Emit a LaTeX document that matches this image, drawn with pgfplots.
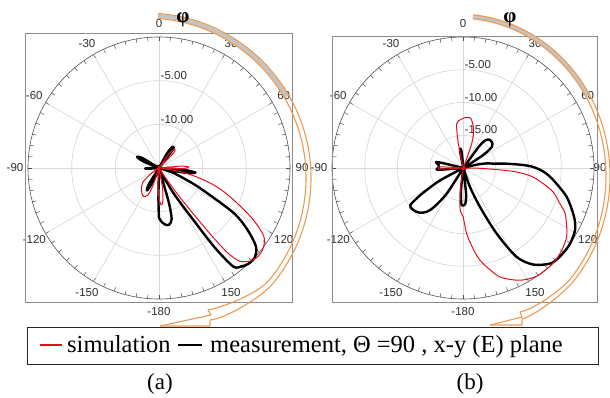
\documentclass[border=0pt]{standalone}
\usepackage{fontspec}
\setmainfont{Liberation Serif}
\newfontfamily\arial{Liberation Sans}
\usepackage{pgfplots}
\usepackage{pgfplotstable}
\pgfplotsset{compat=1.18}

\definecolor{simred}{HTML}{E3101C}
\definecolor{orng}{HTML}{EC9A52}
\definecolor{bandgray}{HTML}{C4C4C4}
\definecolor{gridgray}{HTML}{D9D9D9}
\definecolor{framegray}{HTML}{8C8C8C}
\definecolor{ringdark}{HTML}{505050}
\definecolor{labc}{HTML}{303030}

% ---------- panel (a): phi [deg], level [dB] ----------
\pgfplotstableread{
phi db
-180 -9.3
-179 -11.5
-178 -15
-160 -15
-156 -13.2
-152 -12.1
-148 -12.8
-145 -15
-97 -15
-94 -14
-92 -13.4
-90 -14
-88 -15
-72 -15
-67 -13
-63 -12.2
-59 -12.8
-55 -15
25 -15
29 -13
33 -12.1
37 -12.4
41 -15
91 -15
94 -12.3
97 -10.8
100 -11.8
103 -14.5
106 -14.3
109 -13.2
112 -12.2
116 -9.8
121 -5.05
125 -2.6
129 -0.7
133 0
137 0
140 -0.3
143 -0.9
145 -4
146.5 -7.9
148 -10
150 -11.7
153 -14
156 -15
162 -15
164 -11
166 -9
170 -8.4
174 -8.5
177 -8.8
180 -9.3
}\lblack

\pgfplotstableread{
phi db
-180 -11.5
-177 -13
-174 -15
-165 -15
-161 -13
-158 -11.7
-151 -11.3
-141 -11.8
-131 -12.6
-125 -14
-120 -15
30 -15
35 -13
40 -12.2
44 -12.6
49 -15
82 -15
85 -12.5
88 -11.6
91 -12.2
94 -14.5
97 -14.5
100 -12.2
104 -10.2
108 -8
113 -5.75
118.7 -2.7
123 -0.7
127 0
131 0.2
135 0
139 -0.85
141 -2.5
142 -5
143 -8
144.5 -11
146 -13.5
149 -15
166 -15
170 -12.5
174 -11
177 -10.8
180 -11.5
}\lred

% ---------- panel (b) ----------
\pgfplotstableread{
phi db
-180 -14.3
-177 -14.4
-174 -16.5
-171 -20
-150 -20
-147 -15.3
-143 -12.5
-140 -11.25
-136 -10.5
-133 -10.2
-129 -10
-125 -10.1
-122.5 -12
-121 -13.5
-118 -16
-114 -20
-100 -20
-94 -16.1
-88 -16.3
-83 -16.2
-77 -15.9
-72 -20
-14 -20
-11 -17.5
-9 -17
-6 -17.5
-3 -20
33 -20
36 -16
38.5 -14.6
43 -14.1
48 -14.1
53.5 -14.6
57 -16.5
60 -20
73 -20
76 -17.9
79 -16.3
82 -15.3
84.3 -13.4
87 -11
89.2 -9.3
93 -7.6
97.8 -6.1
105.7 -3.6
113.9 -1.5
119.2 -0.47
126 0
133 0
137.8 -0.3
144.1 -1.8
149.1 -4.2
153.1 -8.8
156.8 -13.5
160.6 -16.9
164 -20
170 -20
174 -16
177 -14.5
180 -14.3
}\rblack

\pgfplotstableread{
phi db
-180 -12.5
-177 -13.2
-175 -14
-172 -17
-169 -20
-97 -20
-93 -16.5
-90 -16.2
-87 -16.5
-83 -20
-15 -20
-11.6 -16.2
-8.6 -13.2
-3 -12.6
2 -12.3
8 -12.3
12.5 -13.2
15.5 -14.05
19 -16.1
23 -20
88 -20
91 -17.5
93 -14.4
94.3 -11.8
97 -9.5
101.1 -7.56
105 -5.8
110.3 -4.27
114 -3
119.7 -1.83
124 -1
128.3 -0.55
133 -0.2
137.7 0
144.9 0
149 -0.3
153.2 -0.8
157 -1.5
161.4 -2.44
165 -3.8
169.7 -5.68
173 -7.5
177.1 -9.96
180 -12.5
}\rred

\begin{document}
\begin{tikzpicture}[x=1pt,y=1pt]
\path[use as bounding box] (0,0) rectangle (610,397);

% ----- polar grids (decoration) -----
\foreach \cx/\rs in {159/43.67, 463/32.75} {
  \foreach \k in {1,2,3,4} {
    \pgfmathsetmacro\rr{\k*\rs}
    \ifdim\rr pt<130pt
      \draw[gridgray, line width=0.7pt] (\cx,229) circle[radius=\rr pt];
    \fi
  }
  \foreach \a in {0,30,...,330}
    \draw[gridgray, line width=0.7pt] (\cx,229) -- ++(\a:131pt);
  \draw[ringdark, line width=0.6pt] (\cx,229) circle[radius=131pt];
  \foreach \a in {0,5,...,355}
    \draw[ringdark, line width=0.5pt] (\cx,229) ++(\a:127pt) -- ++(\a:4pt);
}
\foreach \cx in {159,463} {
  \foreach \a/\t in {0/0,30/30,60/60,120/120,150/150,180/-180,210/-150,240/-120,270/-90,300/-60,330/-30}
    \path (\cx,229) ++({90-\a}:144pt) node[font=\arial\fontsize{11.5}{13}\selectfont, text=labc, inner sep=0pt] {\t};
}
\path (159,229) ++(0:143pt) node[font=\arial\fontsize{11.5}{13}\selectfont, text=labc, inner sep=0pt] {90};
\path (463,229) ++(0:137pt) node[font=\arial\fontsize{11.5}{13}\selectfont, text=labc, inner sep=0pt] {90};
% ring labels
\begingroup\arial\fontsize{11.5}{13}\selectfont
\node[anchor=south west, inner sep=1pt, text=labc] at (159.5,229+87.33) {-5.00};
\node[anchor=south west, inner sep=1pt, text=labc] at (159.5,229+43.67) {-10.00};
\node[anchor=south west, inner sep=1pt, text=labc] at (463.5,229+98.25) {-5.00};
\node[anchor=south west, inner sep=1pt, text=labc] at (463.5,229+65.5) {-10.00};
\node[anchor=south west, inner sep=1pt, text=labc] at (463.5,229+32.75) {-15.00};
\endgroup

% ----- panel (a) -----
\begin{axis}[at={(25pt,95pt)}, anchor=south west, x=8.733pt, y=8.733pt,
  xmin=-15.34, xmax=15.23, ymin=-15.34, ymax=15.46,
  axis line style={framegray, line width=0.8pt},
  xtick=\empty, ytick=\empty, clip=false]
\addplot[black, line width=2.4pt, smooth, tension=0.5, line join=round]
  table[x expr={(\thisrow{db}+15)*sin(\thisrow{phi})}, y expr={(\thisrow{db}+15)*cos(\thisrow{phi})}] {\lblack};
\addplot[simred, line width=1pt, smooth, tension=0.5]
  table[x expr={(\thisrow{db}+15)*sin(\thisrow{phi})}, y expr={(\thisrow{db}+15)*cos(\thisrow{phi})}] {\lred};
\end{axis}

% ----- panel (b) -----
\begin{axis}[at={(332pt,95pt)}, anchor=south west, x=6.55pt, y=6.55pt,
  xmin=-20.05, xmax=20.41, ymin=-20.46, ymax=20.15,
  axis line style={framegray, line width=0.8pt},
  xtick=\empty, ytick=\empty, clip=false]
\addplot[black, line width=2.4pt, smooth, tension=0.5, line join=round]
  table[x expr={(\thisrow{db}+20)*sin(\thisrow{phi})}, y expr={(\thisrow{db}+20)*cos(\thisrow{phi})}] {\rblack};
\addplot[simred, line width=1pt, smooth, tension=0.5]
  table[x expr={(\thisrow{db}+20)*sin(\thisrow{phi})}, y expr={(\thisrow{db}+20)*cos(\thisrow{phi})}] {\rred};
\end{axis}

% ----- orange arrows (decoration) -----
\draw[bandgray, line width=4pt] (146,219) ++(85.8:162.5pt) arc[start angle=85.8, end angle=30, radius=162.5pt];
\draw[orng, line width=1.1pt, line join=round] (146,219) ++(85.8:165pt) arc[start angle=85.8, end angle=-40, radius=165pt]
  .. controls (262.8,101.4) and (228,79) .. (210,77) -- (210,71) -- (160,71);
\draw[orng, line width=1.1pt, line join=round] (146,219) ++(85.8:160pt) arc[start angle=85.8, end angle=-40, radius=160pt]
  .. controls (259,104.7) and (225,90) .. (208,87) -- (211,82) -- (160,71);

\draw[bandgray, line width=4pt] (458,221) ++(84.3:150pt and 160pt) arc[start angle=84.3, end angle=30, x radius=150pt, y radius=160pt];
\draw[orng, line width=1.1pt, line join=round] (458,221) ++(84.3:152pt and 162pt) arc[start angle=84.3, end angle=-40, x radius=152pt, y radius=162pt]
  .. controls (565,105) and (538,83) .. (522,78) -- (522,72) -- (490,72);
\draw[orng, line width=1.1pt, line join=round] (458,221) ++(84.3:148pt and 158pt) arc[start angle=84.3, end angle=-40, x radius=148pt, y radius=158pt]
  .. controls (562,107.5) and (535,88) .. (520,85) -- (522,80) -- (490,72);

\node[font=\bfseries\fontsize{21}{23}\selectfont, inner sep=0pt] at (183,377) {φ};
\node[font=\bfseries\fontsize{21}{23}\selectfont, inner sep=0pt] at (510,377) {φ};

% ----- legend box -----
\draw[black!85, line width=1pt] (27,33) rectangle (598,70);
\draw[simred, line width=1.5pt] (40,52) -- (62,52);
\node[anchor=base west, inner sep=0pt, font=\fontsize{24.5}{26}\selectfont] at (67,45) {simulation};
\draw[black, line width=1.5pt] (178,52) -- (202,52);
\node[anchor=base west, inner sep=0pt, font=\fontsize{24.5}{26}\selectfont] at (210,45) {measurement, Θ =90 , x-y (E) plane};

\node[font=\fontsize{23}{25}\selectfont] at (160,13) {(a)};
\node[font=\fontsize{23}{25}\selectfont] at (470,13) {(b)};
\end{tikzpicture}
\end{document}
